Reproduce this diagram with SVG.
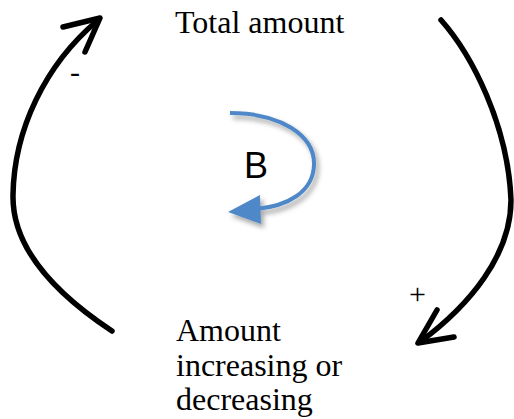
<svg xmlns="http://www.w3.org/2000/svg" width="514" height="419" viewBox="0 0 514 419">
<defs>
<style>
.lbl{font-family:"Liberation Serif","Times New Roman",serif;font-size:32px;fill:#000}
.sign{font-family:"Liberation Serif","Times New Roman",serif;font-size:30px;fill:#000}
.b{font-family:"Liberation Sans",Arial,sans-serif;font-size:36px;fill:#000}
.arc{fill:none;stroke:#000;stroke-width:5.5;stroke-linecap:round;stroke-linejoin:round}
.blue{fill:none;stroke:#4f88c8;stroke-width:4}
</style>
<filter id="sh" x="-20%" y="-20%" width="150%" height="150%">
<feDropShadow dx="3" dy="4" stdDeviation="2.5" flood-color="#000" flood-opacity="0.35"/>
</filter>
</defs>
<g id="total-amount"><text class="lbl" x="175" y="33">Total amount</text></g>
<g id="amount-change"><text class="lbl" x="176" y="341">Amount</text><text class="lbl" x="176" y="376">increasing or</text><text class="lbl" x="176" y="410">decreasing</text></g>
<g id="loop"><text class="b" x="244" y="178">B</text>
<g filter="url(#sh)"><path class="blue" d="M230,113 C280,113 315,135 314,165 C313,192 288,206 256,209"/><polygon points="228,212 260,195 261,224" fill="#4f88c8"/></g></g>
<g id="connectors">
<path class="arc" d="M112,331 C50,290 12,245 13,195 C14,130 45,65 97,21"/>
<polyline class="arc" points="63,27 100,18 85,52"/>
<path class="arc" d="M441,20 C472,55 508,125 511,200 C511,255 470,305 420,342"/>
<polyline class="arc" points="437,310 418,343 454,337"/>
<text class="sign" x="70" y="82">-</text>
<text class="sign" x="409" y="304">+</text>
</g>
</svg>
